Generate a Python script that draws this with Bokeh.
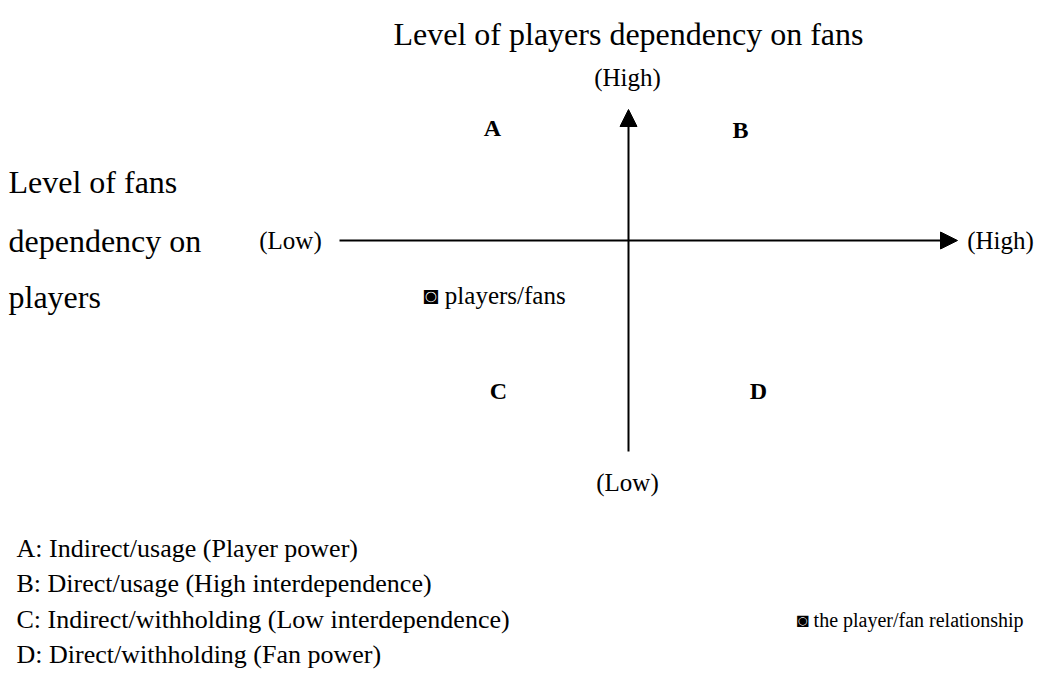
from bokeh.plotting import figure
from bokeh.models import Range1d, Arrow, NormalHead
from bokeh.core.properties import value
from bokeh.embed import file_html
from bokeh.resources import INLINE

FONT = "Liberation Serif"

# Quadrant letters
quad_labels = ["A", "B", "C", "D"]
quad_x = [493, 741, 499, 759]
quad_y = [128, 130, 391, 391]

# Axis end labels
end_labels = ["(High)", "(Low)", "(Low)", "(High)"]
end_x = [628, 291, 628, 1001]
end_y = [78, 241, 483, 241]

# Left axis description
left_lines = ["Level of fans", "dependency on", "players"]
left_y = [182, 241, 297]

title_text = "Level of players dependency on fans"

legend_lines = [
    "A: Indirect/usage (Player power)",
    "B: Direct/usage (High interdependence)",
    "C: Indirect/withholding (Low interdependence)",
    "D: Direct/withholding (Fan power)",
]
legend_y = [549, 584, 620, 655]

point_label = "\u25d9 players/fans"
rel_label = "\u25d9 the player/fan relationship"

W, H = 1035, 677
X0, Y0 = 1, 1
p = figure(width=W, height=H, output_backend="svg", toolbar_location=None,
           x_range=Range1d(X0, X0 + W), y_range=Range1d(Y0 + H, Y0),
           min_border=0)
p.axis.visible = False
p.grid.visible = False
p.outline_line_color = None
p.background_fill_color = "white"
p.border_fill_color = "white"

# Axes arrows
p.add_layout(Arrow(x_start=629, y_start=452, x_end=629, y_end=110,
                   line_width=2, line_color="black",
                   end=NormalHead(size=17, fill_color="black", line_color="black")))
p.add_layout(Arrow(x_start=340, y_start=241, x_end=958, y_end=241,
                   line_width=2, line_color="black",
                   end=NormalHead(size=17, fill_color="black", line_color="black")))

# Title
p.text(x=[629], y=[34], text=[title_text], text_font=value(FONT),
       text_font_size="32px", text_align="center", text_baseline="middle", text_color="black")

# Left description
p.text(x=[9] * 3, y=left_y, text=left_lines, text_font=value(FONT),
       text_font_size="32px", text_align="left", text_baseline="middle", text_color="black")

# End labels
p.text(x=end_x, y=end_y, text=end_labels, text_font=value(FONT),
       text_font_size="25px", text_align="center", text_baseline="middle", text_color="black")

# Quadrant letters
p.text(x=quad_x, y=quad_y, text=quad_labels, text_font=value(FONT),
       text_font_size="24px", text_font_style="bold", text_align="center",
       text_baseline="middle", text_color="black")

# Point label
p.text(x=[424], y=[296], text=[point_label], text_font=value(FONT),
       text_font_size="25px", text_align="left", text_baseline="middle", text_color="black")

# Legend lines
p.text(x=[17] * 4, y=legend_y, text=legend_lines, text_font=value(FONT),
       text_font_size="26px", text_align="left", text_baseline="middle", text_color="black")
p.text(x=[797], y=[620], text=[rel_label], text_font=value(FONT),
       text_font_size="20px", text_align="left", text_baseline="middle", text_color="black")

open("out.html", "w").write(file_html(p, INLINE))
